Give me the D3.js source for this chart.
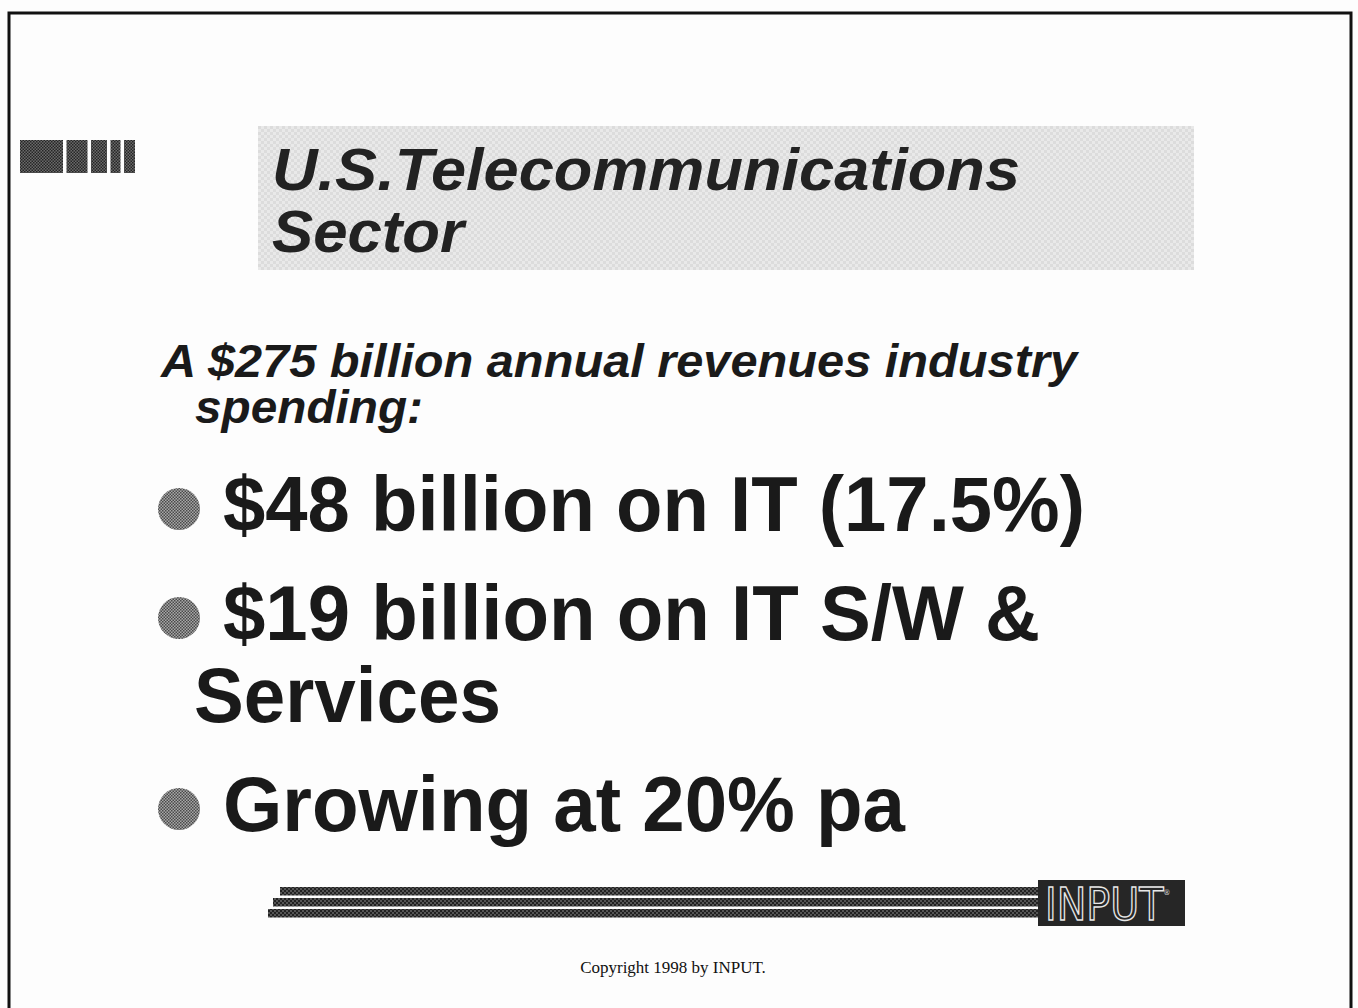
<!DOCTYPE html>
<html>
<head>
<meta charset="utf-8">
<script src="https://cdn.jsdelivr.net/npm/d3@7"></script>
<style>
  html, body { margin: 0; padding: 0; background: #fdfdfd; }
  svg { display: block; }
</style>
</head>
<body>
<div class="slide"></div>
<script>
// slide content
const titleLines = ['U.S.Telecommunications', 'Sector'];
const introLines = ['A $275 billion annual revenues industry', 'spending:'];
const bullets = [
  ['$48 billion on IT (17.5%)'],
  ['$19 billion on IT S/W &', 'Services'],
  ['Growing at 20% pa']
];
const iconBlocks = [43, 21, 16, 10, 11];
const logoText = 'INPUT';
const copyright = 'Copyright 1998 by INPUT.';

function drawSlide() {
  const w = 1358;
  const h = 1008;
  const svg = d3.select('.slide')
    .append('svg')
    .attr('width', w)
    .attr('height', h);

  const defs = svg.append('defs');

  // dithered halftone fills
  const dither = (id, bg, fg, size) => {
    const p = defs.append('pattern')
      .attr('id', id)
      .attr('width', size)
      .attr('height', size)
      .attr('patternUnits', 'userSpaceOnUse');
    p.append('rect').attr('width', size).attr('height', size).attr('fill', bg);
    p.append('rect').attr('width', size / 2).attr('height', size / 2).attr('fill', fg);
    p.append('rect').attr('x', size / 2).attr('y', size / 2).attr('width', size / 2).attr('height', size / 2).attr('fill', fg);
  };
  dither('boxFill', '#e9e9e9', '#dcdcdc', 6);
  dither('iconFill', '#6a6a6a', '#262626', 3);
  dither('dotFill', '#a8a8a8', '#4a4a4a', 3);
  dither('stripeFill', '#222', '#555', 4);

  // frame
  svg.append('rect')
    .attr('x', 9)
    .attr('y', 13)
    .attr('width', 1342)
    .attr('height', 1100)
    .attr('fill', 'none')
    .attr('stroke', '#111')
    .attr('stroke-width', 3);

  // corner icon
  let bx = 20;
  const icon = svg.append('g').attr('class', 'icon');
  iconBlocks.forEach((bw) => {
    icon.append('rect')
      .attr('x', bx)
      .attr('y', 140)
      .attr('width', bw)
      .attr('height', 33)
      .attr('fill', 'url(#iconFill)');
    bx += bw + 3.5;
  });

  // title box
  svg.append('rect')
    .attr('x', 258)
    .attr('y', 126)
    .attr('width', 936)
    .attr('height', 144)
    .attr('fill', 'url(#boxFill)');

  const titleY = d3.scaleLinear().domain([0, 1]).range([190, 252]);
  const titleWidths = [748, 192];
  svg.selectAll('.title')
    .data(titleLines)
    .enter()
    .append('text')
    .attr('class', 'title')
    .attr('x', 272)
    .attr('y', (d, i) => titleY(i))
    .attr('textLength', (d, i) => titleWidths[i])
    .attr('lengthAdjust', 'spacingAndGlyphs')
    .style('font', 'italic bold 59px "Liberation Sans", Arial, sans-serif')
    .style('fill', '#222')
    .text((d) => d);

  // two-line intro as one text block
  const introY = d3.scaleLinear().domain([0, 1]).range([377, 423]);
  const introX = [161, 195];
  const introWidths = [916, 228];
  svg.append('text')
    .attr('class', 'intro')
    .style('font', 'italic bold 46px "Liberation Sans", Arial, sans-serif')
    .style('fill', '#1a1a1a')
    .selectAll('tspan')
    .data(introLines)
    .enter()
    .append('tspan')
    .attr('x', (d, i) => introX[i])
    .attr('y', (d, i) => introY(i))
    .attr('textLength', (d, i) => introWidths[i])
    .attr('lengthAdjust', 'spacingAndGlyphs')
    .text((d) => d);

  // bullet lines: line step plus extra gap between bullets
  const rows = [];
  bullets.forEach((lines, b) => {
    lines.forEach((t, j) => rows.push({ text: t, bullet: b, first: j === 0 }));
  });
  const lineY = d3.scaleLinear().domain([0, 1]).range([531, 613]);
  const gap = 27;
  rows.forEach((r, i) => { r.y = lineY(i) + r.bullet * gap; });
  const rowWidths = [862, 817, 307, 682];

  svg.selectAll('.bullet-dot')
    .data(rows.filter((r) => r.first))
    .enter()
    .append('circle')
    .attr('class', 'bullet-dot')
    .attr('cx', 179)
    .attr('cy', (d) => d.y - 22)
    .attr('r', 21)
    .attr('fill', 'url(#dotFill)');

  svg.selectAll('.bullet')
    .data(rows)
    .enter()
    .append('text')
    .attr('class', 'bullet')
    .attr('x', (d) => d.first ? 223 : 194)
    .attr('y', (d) => d.y)
    .attr('textLength', (d, i) => rowWidths[i])
    .attr('lengthAdjust', 'spacingAndGlyphs')
    .style('font', 'bold 77px "Liberation Sans", Arial, sans-serif')
    .style('fill', '#1a1a1a')
    .text((d) => d.text);

  // footer stripes + logo
  const stripeY = d3.scalePoint().domain([0, 1, 2]).range([887, 909]);
  const stripeStart = [280, 273, 268];
  svg.selectAll('.stripe')
    .data([0, 1, 2])
    .enter()
    .append('rect')
    .attr('class', 'stripe')
    .attr('x', (d) => stripeStart[d])
    .attr('y', (d) => stripeY(d))
    .attr('width', (d) => 1040 - stripeStart[d])
    .attr('height', 8.5)
    .attr('fill', 'url(#stripeFill)');

  svg.append('rect')
    .attr('x', 1038)
    .attr('y', 880)
    .attr('width', 147)
    .attr('height', 46)
    .attr('fill', '#262626');

  const logo = svg.append('text')
    .attr('transform', 'translate(1045,920) scale(0.9,1)')
    .style('font', '44px "DejaVu Sans", sans-serif')
    .style('fill', 'none')
    .style('stroke', '#e8e8e8')
    .style('stroke-width', 1.4);
  logo.append('tspan').text(logoText);
  logo.append('tspan')
    .attr('dy', -25)
    .style('font-size', '8px')
    .style('stroke', 'none')
    .style('fill', '#ddd')
    .text('®');

  svg.append('text')
    .attr('x', 673)
    .attr('y', 973)
    .attr('text-anchor', 'middle')
    .style('font', '17px "Liberation Serif", "Times New Roman", serif')
    .style('fill', '#111')
    .text(copyright);
}

drawSlide();
</script>
</body>
</html>
